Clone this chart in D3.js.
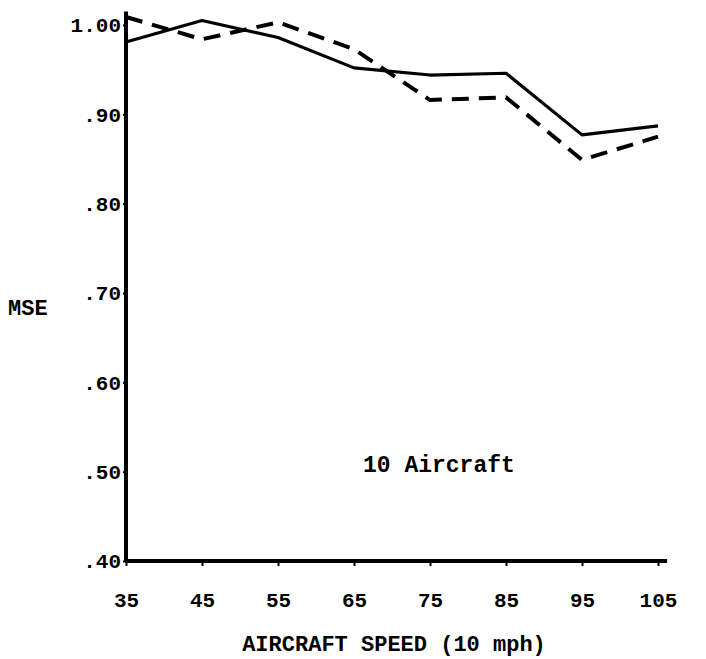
<!DOCTYPE html>
<html>
<head>
<meta charset="utf-8">
<script src="https://cdnjs.cloudflare.com/ajax/libs/d3/7.8.5/d3.min.js"></script>
<style>
  body { margin: 0; background: #fff; }
  text { font-family: "Liberation Mono", "DejaVu Sans Mono", monospace; fill: #000; }
</style>
</head>
<body>
<div id="chart"></div>
<script>
// Data
var speeds = [35, 45, 55, 65, 75, 85, 95, 105];
var solidMSE = [0.981, 1.005, 0.986, 0.952, 0.944, 0.946, 0.877, 0.887];
var dashedMSE = [1.009, 0.984, 1.003, 0.973, 0.916, 0.919, 0.849, 0.875];
var yTicks = [0.40, 0.50, 0.60, 0.70, 0.80, 0.90, 1.00];
var yTickLabels = [".40", ".50", ".60", ".70", ".80", ".90", "1.00"];

var svgWidth = 706;
var svgHeight = 659;

var svg = d3.select("#chart")
  .append("svg")
  .attr("width", svgWidth)
  .attr("height", svgHeight);

// Scales
var x = d3.scaleLinear()
  .domain([35, 105])
  .range([126, 658]);

var y = d3.scaleLinear()
  .domain([0.40, 1.00])
  .range([561, 25]);

// Axes
var bottomAxis = d3.axisBottom(x)
  .tickValues(speeds)
  .tickSize(5)
  .tickSizeOuter(0)
  .tickPadding(26);

var leftAxis = d3.axisLeft(y)
  .tickValues(yTicks)
  .tickFormat(function(d, i) { return yTickLabels[i]; })
  .tickSize(3)
  .tickSizeOuter(0)
  .tickPadding(2);

var xAxisG = svg.append("g")
  .attr("transform", "translate(0," + y(0.40) + ")")
  .call(bottomAxis);

var yAxisG = svg.append("g")
  .attr("transform", "translate(" + x(35) + ",0)")
  .call(leftAxis);

xAxisG.select(".domain").remove();
yAxisG.select(".domain").remove();

xAxisG.selectAll(".tick line").attr("stroke", "#000").attr("stroke-width", 2);
yAxisG.selectAll(".tick line").attr("stroke", "#000").attr("stroke-width", 2);

xAxisG.selectAll(".tick text")
  .attr("font-size", "21px")
  .attr("font-weight", "bold")
  .style("font-family", "Liberation Mono");

yAxisG.selectAll(".tick text")
  .attr("font-size", "21px")
  .attr("font-weight", "bold")
  .style("font-family", "Liberation Mono");

// Thick axis lines (the y axis runs a little above 1.00, the x axis a little past 105)
svg.append("line")
  .attr("x1", x(35)).attr("x2", x(35))
  .attr("y1", y(0.40) + 1).attr("y2", y(1.015))
  .attr("stroke", "#000").attr("stroke-width", 4);

svg.append("line")
  .attr("x1", x(35) - 1).attr("x2", x(106.2))
  .attr("y1", y(0.40)).attr("y2", y(0.40))
  .attr("stroke", "#000").attr("stroke-width", 4);

// Lines
var line = d3.line()
  .x(function(d) { return x(d[0]); })
  .y(function(d) { return y(d[1]); });

var solidData = speeds.map(function(s, i) { return [s, solidMSE[i]]; });
var dashedData = speeds.map(function(s, i) { return [s, dashedMSE[i]]; });

svg.append("path")
  .datum(solidData)
  .attr("d", line)
  .attr("fill", "none")
  .attr("stroke", "#000")
  .attr("stroke-width", 3.2)
  .attr("stroke-linejoin", "round");

svg.append("path")
  .datum(dashedData)
  .attr("d", line)
  .attr("fill", "none")
  .attr("stroke", "#000")
  .attr("stroke-width", 4)
  .attr("stroke-dasharray", "17,10")
  .attr("stroke-linejoin", "round");

// Labels
svg.append("text")
  .attr("x", 8)
  .attr("y", 315)
  .attr("font-size", "22px")
  .attr("font-weight", "bold")
  .text("MSE");

svg.append("text")
  .attr("x", 363)
  .attr("y", 472)
  .attr("font-size", "23px")
  .attr("font-weight", "bold")
  .text("10 Aircraft");

svg.append("text")
  .attr("x", (240 + 548) / 2)
  .attr("y", 651)
  .attr("text-anchor", "middle")
  .attr("font-size", "22px")
  .attr("font-weight", "bold")
  .text("AIRCRAFT SPEED (10 mph)");
</script>
</body>
</html>
